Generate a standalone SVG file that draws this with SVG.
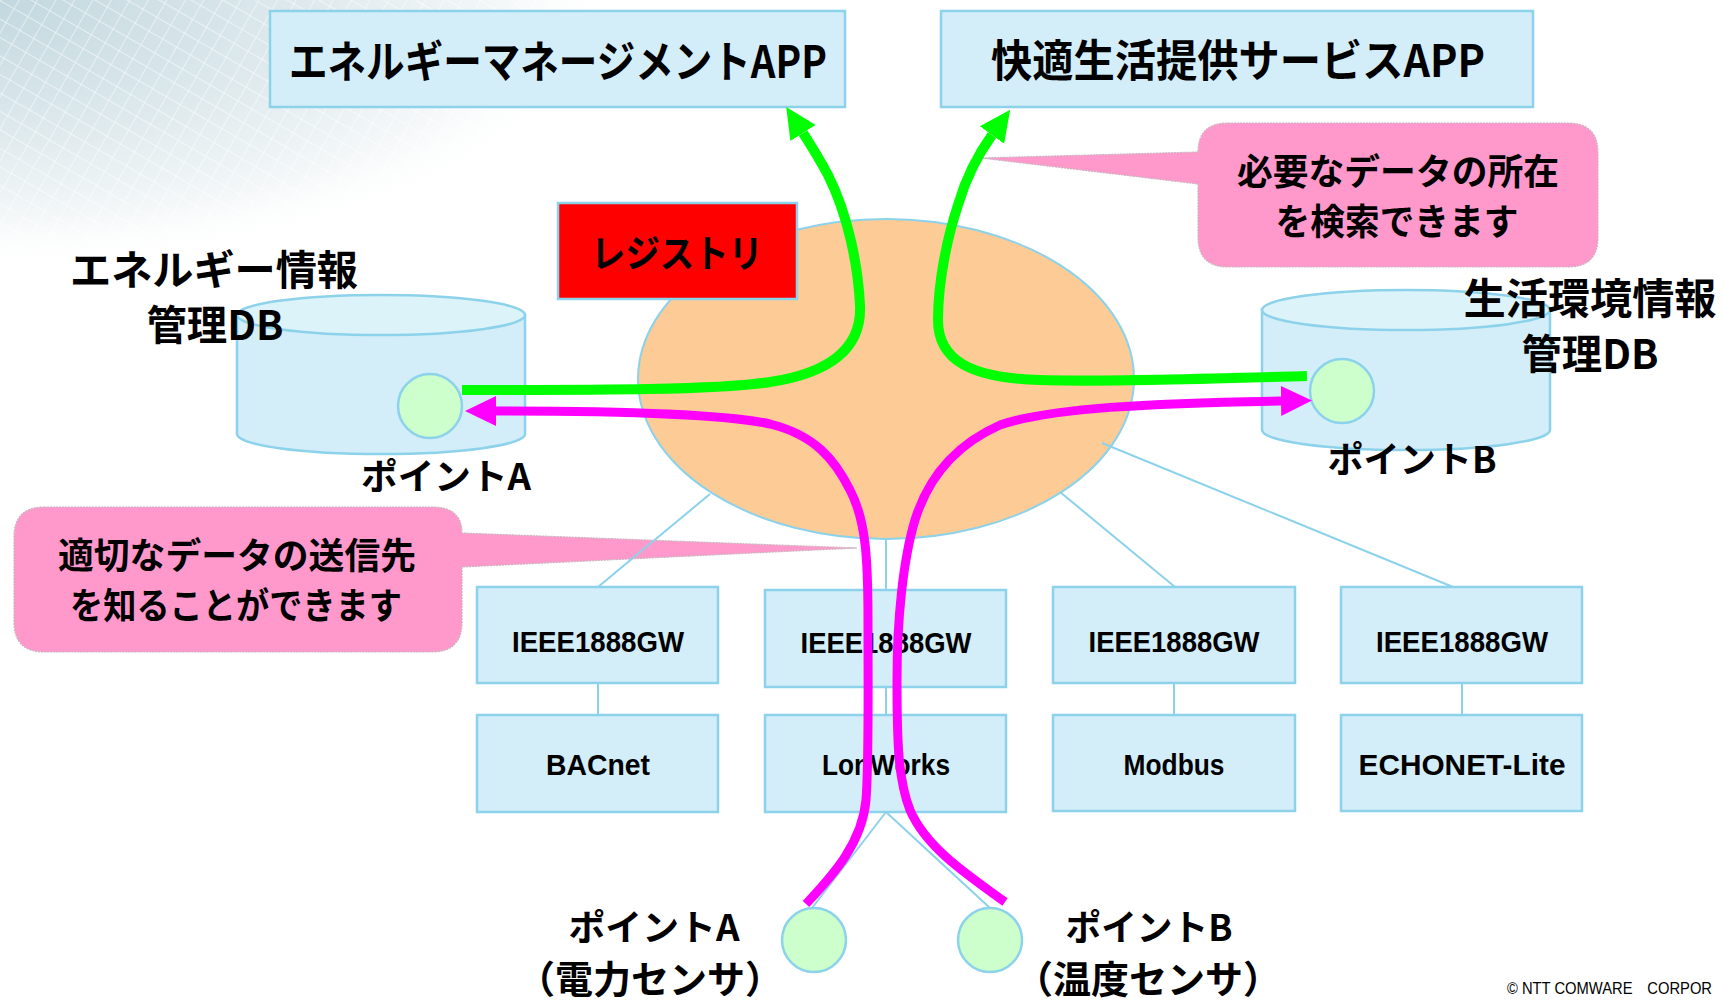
<svg xmlns="http://www.w3.org/2000/svg" width="1726" height="1003" viewBox="0 0 1726 1003">
<defs>
<style>
.box{fill:#D3EEF8;stroke:#8CD2EA;stroke-width:2.5}
.jp{font-family:"Noto Sans CJK JP","Noto Sans",sans-serif;font-weight:bold;fill:#000}
.lat{font-family:"Liberation Sans",Arial,sans-serif;font-weight:bold;fill:#000;font-size:30px}
.conn{stroke:#8CD2EA;stroke-width:2;fill:none}
.pt{fill:#CCFFCC;stroke:#8CD2EA;stroke-width:2.5}
.callout{fill:#FF99CC;stroke:#C9B3BF;stroke-width:1.2;stroke-dasharray:2 1}
.green{fill:none;stroke:#00FF00;stroke-width:10}
.mag{fill:none;stroke:#FF00FF;stroke-width:9}
.db{fill:#D3EEF8;stroke:#8CD2EA;stroke-width:2.5}
.dbtop{fill:#DCF3FA;stroke:#8CD2EA;stroke-width:2.5}
</style>
<radialGradient id="bgg" cx="0" cy="0" r="1" gradientUnits="userSpaceOnUse" gradientTransform="scale(620,270)">
<stop offset="0" stop-color="#C2D8DF"/>
<stop offset="0.45" stop-color="#DCE8EC"/>
<stop offset="0.8" stop-color="#F3F7F8"/>
<stop offset="1" stop-color="#FFFFFF" stop-opacity="0"/>
</radialGradient>
<pattern id="grid" width="16" height="16" patternUnits="userSpaceOnUse" patternTransform="rotate(30)">
<path d="M0 0H16M0 0V16" stroke="#FFFFFF" stroke-width="1.4" stroke-opacity="0.7" fill="none"/>
</pattern>
<marker id="ahg" markerUnits="userSpaceOnUse" viewBox="0 0 32 32" markerWidth="32" markerHeight="32" refX="0" refY="16" orient="auto">
<path d="M0,1 L31,16 L0,31 Z" fill="#00FF00"/>
</marker>
<marker id="ahm" markerUnits="userSpaceOnUse" viewBox="0 0 32 32" markerWidth="32" markerHeight="32" refX="0" refY="16" orient="auto">
<path d="M0,1 L31,16 L0,31 Z" fill="#FF00FF"/>
</marker>
</defs>

<rect width="1726" height="1003" fill="#FFFFFF"/>
<g id="background">
<rect x="0" y="0" width="640" height="280" fill="url(#bgg)"/>
<rect x="0" y="0" width="640" height="280" fill="url(#grid)"/>
</g>

<g id="app-energy">
<rect class="box" x="270" y="11" width="575" height="96"/>
<text class="jp" x="558" y="78" font-size="44" text-anchor="middle" textLength="538" lengthAdjust="spacingAndGlyphs">エネルギーマネージメントAPP</text>
</g>
<g id="app-comfort">
<rect class="box" x="941" y="11" width="592" height="96"/>
<text class="jp" x="1238" y="77" font-size="44" text-anchor="middle" textLength="494" lengthAdjust="spacingAndGlyphs">快適生活提供サービスAPP</text>
</g>

<g id="cloud">
<ellipse cx="886" cy="379" rx="248" ry="160" fill="#FCCB96" stroke="#8CD2EA" stroke-width="2"/>
</g>
<g id="registry">
<rect x="558" y="203" width="239" height="96" fill="#FF0000" stroke="#8CD2EA" stroke-width="2.5"/>
<text class="jp" x="677" y="267" font-size="38" text-anchor="middle" textLength="172" lengthAdjust="spacingAndGlyphs">レジストリ</text>
</g>

<g id="db-energy">
<path class="db" d="M237 315 V434 A144 20 0 0 0 525 434 V315 Z"/>
<ellipse class="dbtop" cx="381" cy="315" rx="144" ry="20"/>
<ellipse class="pt" cx="430" cy="406" rx="32" ry="32"/>
<text class="jp" x="214" y="285" font-size="41" text-anchor="middle" textLength="288" lengthAdjust="spacingAndGlyphs">エネルギー情報</text>
<text class="jp" x="215" y="340" font-size="41" text-anchor="middle" textLength="137" lengthAdjust="spacingAndGlyphs">管理DB</text>
<text class="jp" x="446" y="490" font-size="36" text-anchor="middle" textLength="170" lengthAdjust="spacingAndGlyphs">ポイントA</text>
</g>

<g id="db-life">
<path class="db" d="M1262 310 V430 A144 20 0 0 0 1550 430 V310 Z"/>
<ellipse class="dbtop" cx="1406" cy="310" rx="144" ry="20"/>
<ellipse class="pt" cx="1342" cy="391" rx="32" ry="32"/>
<text class="jp" x="1590" y="314" font-size="42" text-anchor="middle" textLength="253" lengthAdjust="spacingAndGlyphs">生活環境情報</text>
<text class="jp" x="1590" y="369" font-size="41" text-anchor="middle" textLength="137" lengthAdjust="spacingAndGlyphs">管理DB</text>
<text class="jp" x="1412" y="473" font-size="36" text-anchor="middle" textLength="169" lengthAdjust="spacingAndGlyphs">ポイントB</text>
</g>

<g id="callout-search">
<path class="callout" d="M1228 123 H1568 Q1598 123 1598 153 V237 Q1598 267 1568 267 H1228 Q1198 267 1198 237 V184 L981 158 L1198 152 Q1198 123 1228 123 Z"/>
<text class="jp" x="1398" y="185" font-size="36" text-anchor="middle" textLength="322" lengthAdjust="spacingAndGlyphs">必要なデータの所在</text>
<text class="jp" x="1397" y="235" font-size="36" text-anchor="middle" textLength="243" lengthAdjust="spacingAndGlyphs">を検索できます</text>
</g>

<g id="callout-dest">
<path class="callout" d="M44 507 H432 Q462 507 462 533 L857 548 L462 567 V622 Q462 652 432 652 H44 Q14 652 14 622 V537 Q14 507 44 507 Z"/>
<text class="jp" x="237" y="569" font-size="36" text-anchor="middle" textLength="358" lengthAdjust="spacingAndGlyphs">適切なデータの送信先</text>
<text class="jp" x="236" y="619" font-size="36" text-anchor="middle" textLength="332" lengthAdjust="spacingAndGlyphs">を知ることができます</text>
</g>

<g id="gw1"><rect class="box" x="477" y="587" width="241" height="96"/><text class="lat" x="598" y="652" text-anchor="middle" textLength="172" lengthAdjust="spacingAndGlyphs">IEEE1888GW</text></g>
<g id="gw2"><rect class="box" x="765" y="590" width="241" height="97"/><text class="lat" x="886" y="653" text-anchor="middle" textLength="171" lengthAdjust="spacingAndGlyphs">IEEE1888GW</text></g>
<g id="gw3"><rect class="box" x="1053" y="587" width="242" height="96"/><text class="lat" x="1174" y="652" text-anchor="middle" textLength="171" lengthAdjust="spacingAndGlyphs">IEEE1888GW</text></g>
<g id="gw4"><rect class="box" x="1341" y="587" width="241" height="96"/><text class="lat" x="1462" y="652" text-anchor="middle" textLength="172" lengthAdjust="spacingAndGlyphs">IEEE1888GW</text></g>

<g id="bacnet"><rect class="box" x="477" y="715" width="241" height="97"/><text class="lat" x="598" y="775" text-anchor="middle" textLength="104" lengthAdjust="spacingAndGlyphs">BACnet</text></g>
<g id="lonworks"><rect class="box" x="765" y="715" width="241" height="97"/><text class="lat" x="886" y="775" text-anchor="middle" textLength="128" lengthAdjust="spacingAndGlyphs">LonWorks</text></g>
<g id="modbus"><rect class="box" x="1053" y="715" width="242" height="96"/><text class="lat" x="1174" y="775" text-anchor="middle" textLength="101" lengthAdjust="spacingAndGlyphs">Modbus</text></g>
<g id="echonet"><rect class="box" x="1341" y="715" width="241" height="96"/><text class="lat" x="1462" y="775" text-anchor="middle" textLength="207" lengthAdjust="spacingAndGlyphs">ECHONET-Lite</text></g>

<g id="sensor-a">
<ellipse class="pt" cx="814" cy="940" rx="32" ry="32"/>
<text class="jp" x="654" y="941" font-size="36" text-anchor="middle" textLength="171" lengthAdjust="spacingAndGlyphs">ポイントA</text>
<text class="jp" x="650" y="993" font-size="38" text-anchor="middle">（電力センサ）</text>
</g>
<g id="sensor-b">
<ellipse class="pt" cx="990" cy="940" rx="32" ry="32"/>
<text class="jp" x="1149" y="941" font-size="36" text-anchor="middle" textLength="167" lengthAdjust="spacingAndGlyphs">ポイントB</text>
<text class="jp" x="1148" y="993" font-size="38" text-anchor="middle">（温度センサ）</text>
</g>

<g id="connectors">
<line class="conn" x1="710" y1="494" x2="598" y2="587"/>
<line class="conn" x1="886" y1="539" x2="886" y2="590"/>
<line class="conn" x1="1060" y1="492" x2="1175" y2="587"/>
<line class="conn" x1="1102" y1="443" x2="1453" y2="587"/>
<line class="conn" x1="598" y1="683" x2="598" y2="715"/>
<line class="conn" x1="886" y1="687" x2="886" y2="715"/>
<line class="conn" x1="1174" y1="683" x2="1174" y2="715"/>
<line class="conn" x1="1462" y1="683" x2="1462" y2="715"/>
<line class="conn" x1="886" y1="812" x2="812" y2="908"/>
<line class="conn" x1="886" y1="812" x2="990" y2="908"/>
<path class="green" marker-end="url(#ahg)" d="M462 390 C600 390 720 390 770 382 C835 372 862 345 860 305 C858 265 848 215 828 175 C820 160 812 147 803 133"/>
<path class="green" marker-end="url(#ahg)" d="M1307 376 C1200 379 1100 382 1040 380 C970 378 938 360 938 320 C938 280 948 235 958 205 C966 178 979 153 992 135"/>
<path class="mag" marker-end="url(#ahm)" d="M806 904 C830 878 862 845 866 800 C869 760 868 700 868 620 C868 560 866 520 850 490 C835 460 815 435 770 424 C720 413 600 411 496 411"/>
<path class="mag" marker-end="url(#ahm)" d="M1005 902 C960 870 925 845 910 810 C898 780 897 740 897 680 C897 620 903 560 915 520 C928 478 955 445 1000 425 C1050 408 1150 403 1281 401"/>
</g>

<text x="1507" y="994" font-family="'Liberation Sans Narrow','Liberation Sans',Arial,sans-serif" font-size="16" fill="#000" textLength="205" lengthAdjust="spacingAndGlyphs">© NTT COMWARE　CORPOR</text>
</svg>
